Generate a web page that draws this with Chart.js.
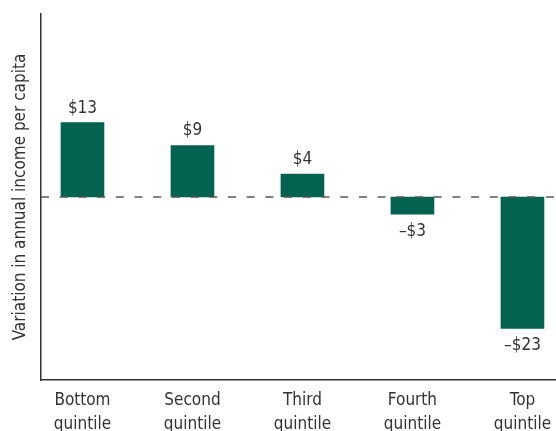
<!DOCTYPE html>
<html>
<head>
<meta charset="utf-8">
<script src="https://cdn.jsdelivr.net/npm/chart.js@4"></script>
<style>
  html, body { margin: 0; padding: 0; background: #fff; }
  #wrap { width: 556px; height: 431px; }
</style>
</head>
<body>
<div id="wrap"><canvas id="chart"></canvas></div>
<script>
// data
const categories = [['Bottom', 'quintile'], ['Second', 'quintile'], ['Third', 'quintile'], ['Fourth', 'quintile'], ['Top', 'quintile']];
const values = [13, 9, 4, -3, -23];
const yTitle = 'Variation in annual income per capita';

const FONT = '"Liberation Sans Narrow", "DejaVu Sans Condensed", "Roboto Condensed", sans-serif';
const BAR = '#03634f';
const TEXT = '#333';

function money(v) {
    return (v < 0 ? '\u2013$' : '$') + Math.abs(v);
}

// dashed zero line on top of bars + value labels
const extras = {
    id: 'extras',
    afterDatasetsDraw(chart) {
        const ctx = chart.ctx;
        const y = chart.scales.y;
        const area = chart.chartArea;
        const y0 = y.getPixelForValue(0);
        ctx.save();
        ctx.strokeStyle = '#5a5a5a';
        ctx.lineWidth = 1.5;
        ctx.setLineDash([8, 10.7]);
        ctx.beginPath();
        ctx.moveTo(area.left, y0);
        ctx.lineTo(area.right, y0);
        ctx.stroke();
        ctx.setLineDash([]);

        ctx.fillStyle = TEXT;
        ctx.font = '17px ' + FONT;
        ctx.textAlign = 'center';
        chart.getDatasetMeta(0).data.forEach((bar, i) => {
            const v = values[i];
            if (v >= 0) {
                ctx.textBaseline = 'bottom';
                ctx.fillText(money(v), bar.x, bar.y - 6);
            } else {
                ctx.textBaseline = 'top';
                ctx.fillText(money(v), bar.x, bar.y + 9);
            }
        });
        ctx.restore();
    }
};

new Chart(document.getElementById('chart'), {
    type: 'bar',
    data: {
        datasets: [{
            data: values.map((v, i) => ({ x: i, y: v })),
            backgroundColor: BAR,
            barThickness: 43
        }]
    },
    options: {
        responsive: true,
        maintainAspectRatio: false,
        animation: false,
        layout: { padding: { top: 14, left: 0, right: 0, bottom: 0 } },
        plugins: { legend: { display: false }, tooltip: { enabled: false } },
        scales: {
            x: {
                type: 'linear',
                offset: false,
                min: -0.377,
                max: 4.305,
                grid: { display: false },
                border: { display: true, color: '#333', width: 1.5 },
                ticks: {
                    stepSize: 1,
                    includeBounds: false,
                    autoSkip: false,
                    maxRotation: 0,
                    padding: 1,
                    color: TEXT,
                    font: { family: FONT, size: 17, lineHeight: 1.4 },
                    callback: (v) => Number.isInteger(v) && categories[v] ? categories[v] : ''
                },
                afterFit: (s) => { s.height = 51; }
            },
            y: {
                min: -32,
                max: 32,
                grid: { display: false },
                border: { display: true, color: '#333', width: 1.5 },
                ticks: { display: false },
                title: {
                    display: true,
                    text: yTitle,
                    color: TEXT,
                    font: { family: FONT, size: 17 },
                    padding: { top: 10, bottom: 0 }
                },
                afterFit: (s) => { s.width = 41; }
            }
        }
    },
    plugins: [extras]
});
</script>
</body>
</html>
